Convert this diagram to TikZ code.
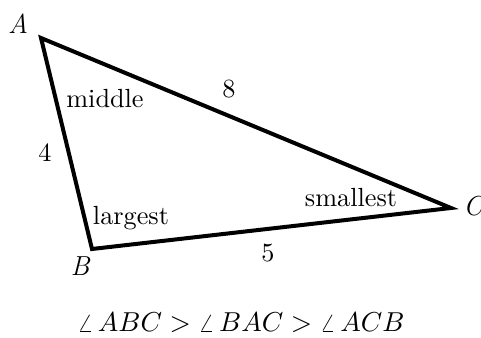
\documentclass[tikz,border=0pt]{standalone}
\usepackage{tikz}

\begin{document}
\begin{tikzpicture}[x=0.4pt,y=-0.4pt,
  side/.style={line width=1.6pt,line join=miter},
  vlabel/.style={font=\fontsize{11}{13}\selectfont\itshape},
  alabel/.style={font=\fontsize{10.5}{12}\selectfont}]
\path[use as bounding box] (0,0) rectangle (481,338);
\coordinate (A) at (41,38);
\coordinate (B) at (92,249);
\coordinate (C) at (451,208);
\draw[side] (A) -- (B) -- (C) -- cycle;
\node[vlabel] (labA) at (18,24) {A};
\node[vlabel] (labB) at (80,266) {B};
\node[vlabel] (labC) at (473,206) {C};
\node[alabel] (angA) at (105,99) {middle};
\node[alabel] (angB) at (131,218) {largest};
\node[alabel] (angC) at (351,198) {smallest};
\node[alabel] (sideAB) at (45,153) {4};
\node[alabel] (sideAC) at (229,89) {8};
\node[alabel] (sideBC) at (268,253) {5};
\node[alabel] (order) at (241,323) {$\angle\, ABC > \angle\, BAC > \angle\, ACB$};
\end{tikzpicture}
\end{document}
